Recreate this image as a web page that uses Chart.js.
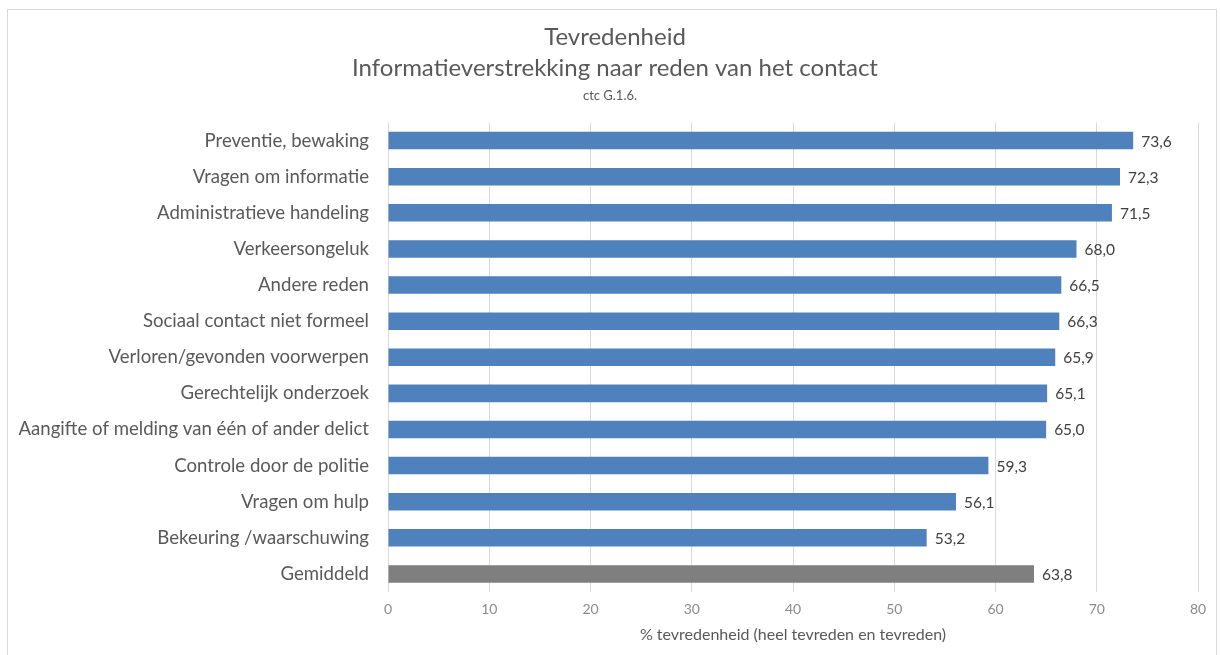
<!DOCTYPE html>
<html><head><meta charset="utf-8">
<script src="https://cdn.jsdelivr.net/npm/chart.js@4"></script>
<style>
html,body{margin:0;padding:0;background:#fff;overflow:hidden}
#wrap{position:relative;width:1220px;height:655px}
#frame{position:absolute;left:7px;top:9px;width:1210px;height:700px;border:1px solid #d9d9d9;box-sizing:border-box;pointer-events:none}
</style></head>
<body><div id="wrap"><canvas id="c" width="1220" height="655"></canvas><div id="frame"></div></div>
<script>
const categories = [
  "Preventie, bewaking",
  "Vragen om informatie",
  "Administratieve handeling",
  "Verkeersongeluk",
  "Andere reden",
  "Sociaal contact niet formeel",
  "Verloren/gevonden voorwerpen",
  "Gerechtelijk onderzoek",
  "Aangifte of melding van één of ander delict",
  "Controle door de politie",
  "Vragen om hulp",
  "Bekeuring /waarschuwing",
  "Gemiddeld"
];
const values = [73.6, 72.3, 71.5, 68.0, 66.5, 66.3, 65.9, 65.1, 65.0, 59.3, 56.1, 53.2, 63.8];
const xTicks = [0, 10, 20, 30, 40, 50, 60, 70, 80];
const titleLines = ["Tevredenheid", "Informatieverstrekking naar reden van het contact"];
const subtitleText = "ctc G.1.6.";
const xTitle = "% tevredenheid (heel tevreden en tevreden)";

const FONT = "Lato, 'Open Sans', sans-serif";
const barColors = categories.map(c => c === "Gemiddeld" ? "#7f7f7f" : "#4f81bd");

const valueLabels = {
  id: 'valueLabels',
  afterDatasetsDraw(chart) {
    const ctx = chart.ctx;
    const meta = chart.getDatasetMeta(0);
    ctx.save();
    ctx.font = "15.5px " + FONT;
    ctx.fillStyle = "#404040";
    ctx.textAlign = "left";
    ctx.textBaseline = "middle";
    meta.data.forEach((el, i) => {
      const txt = values[i].toFixed(1).replace('.', ',');
      ctx.fillText(txt, el.x + 8, el.y + 1);
    });
    ctx.restore();
  }
};

// shift the title blocks horizontally so their centres match the reference
const titleShift = {
  id: 'titleShift',
  afterLayout(chart) {
    chart.boxes.forEach(b => {
      if (!b.options || b.position !== 'top' || !('text' in b.options)) return;
      if (b.options.text === subtitleText) b.left = 22;
      else b.left = 32;
    });
  }
};

new Chart(document.getElementById('c'), {
  type: 'bar',
  data: {
    labels: categories,
    datasets: [{
      data: values,
      backgroundColor: barColors,
      borderWidth: 0,
      barPercentage: 0.97,
      categoryPercentage: 0.5
    }]
  },
  options: {
    indexAxis: 'y',
    responsive: false,
    animation: false,
    layout: { padding: { left: 0, right: 22, top: 0, bottom: 0 } },
    plugins: {
      legend: { display: false },
      tooltip: { enabled: false },
      title: {
        display: true,
        text: titleLines,
        color: "#595959",
        font: { family: FONT, size: 24, weight: 'normal', lineHeight: 1.29 },
        padding: { top: 22, bottom: 0 }
      },
      subtitle: {
        display: true,
        text: subtitleText,
        color: "#595959",
        font: { family: FONT, size: 13, weight: 'normal', lineHeight: 1.2 },
        padding: { top: 4, bottom: 19 }
      }
    },
    scales: {
      x: {
        min: 0, max: 80,
        afterBuildTicks(s) { s.ticks = xTicks.map(v => ({ value: v })); },
        afterFit(s) { s.height = 63; },
        grid: { color: "#d9d9d9", drawTicks: false, lineWidth: 1 },
        border: { display: false },
        ticks: { color: "#8c8c8c", font: { family: FONT, size: 14 }, padding: 9 },
        title: {
          display: true, text: xTitle, color: "#595959",
          font: { family: FONT, size: 16 }, padding: { top: 4, bottom: 11 }
        }
      },
      y: {
        afterFit(s) { s.width = 388; },
        grid: { display: false, drawTicks: false },
        border: { display: false },
        ticks: { color: "#595959", font: { family: FONT, size: 18.6 }, padding: 19, autoSkip: false }
      }
    }
  },
  plugins: [valueLabels, titleShift]
});
</script>
</body></html>
